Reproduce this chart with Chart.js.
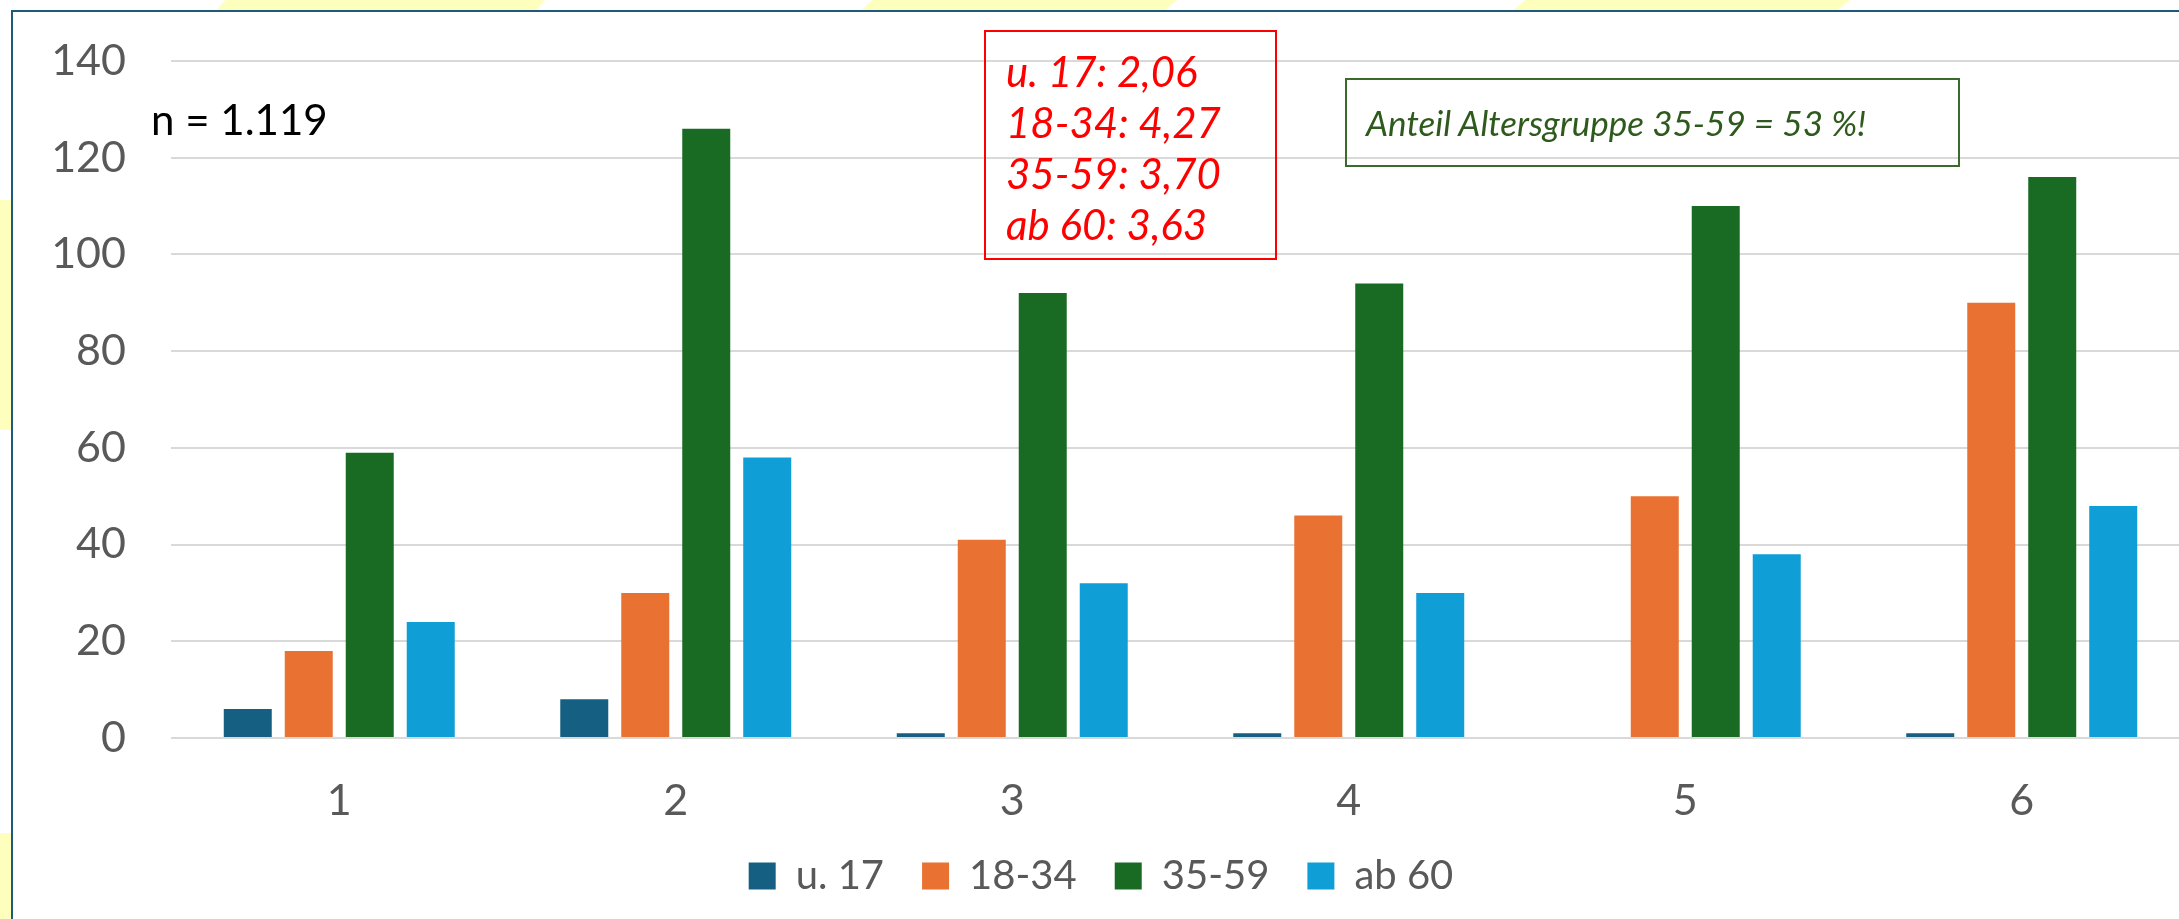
<!DOCTYPE html>
<html lang="de">
<head>
<meta charset="utf-8">
<title>Altersgruppen</title>
<script src="https://cdn.jsdelivr.net/npm/chart.js@4.4.1/dist/chart.umd.min.js"></script>
<style>
  html, body { margin: 0; padding: 0; background: #ffffff; overflow: hidden; width: 2179px; height: 919px; }
  body { position: relative; font-family: Lato, "Open Sans", sans-serif; }
  .gelb { position: absolute; background: #ffffbd; }
  #rahmen { position: absolute; left: 11px; top: 10px; width: 2300px; height: 1000px;
            border-left: 2px solid #1d5a7c; border-top: 2px solid #1d5a7c; background: #fff; }
  #wrap { position: absolute; left: 12px; top: 11px; width: 2202px; height: 908px; }
  #n { position: absolute; left: 151px; top: 94px; font-size: 42px; color: #000; line-height: 50px; }
  #rot { position: absolute; left: 984px; top: 30px; width: 293px; height: 230px;
         border: 2px solid #ff0000; color: #ff0000; font-style: italic; font-size: 42px;
         line-height: 51px; padding: 14px 0 0 20px; box-sizing: border-box; }
  #gruen { position: absolute; left: 1345px; top: 78px; width: 615px; height: 89px;
           border: 2px solid #3b6b2a; color: #2f5a1e; font-style: italic; font-size: 35px;
           line-height: 85px; padding-left: 19px; box-sizing: border-box; white-space: nowrap; }
</style>
</head>
<body>
<!-- gelbe Deko-Streifen ausserhalb des Rahmens -->
<div class="gelb" style="left:205px; top:0; width:340px; height:11px; clip-path: polygon(3% 100%, 6% 0, 100% 0, 97% 100%);"></div>
<div class="gelb" style="left:860px; top:0; width:317px; height:11px; clip-path: polygon(0 100%, 4% 0, 100% 0, 96% 100%);"></div>
<div class="gelb" style="left:1512px; top:0; width:338px; height:11px; clip-path: polygon(0 100%, 4% 0, 100% 0, 96% 100%);"></div>
<div class="gelb" style="left:0; top:200px; width:11px; height:230px;"></div>
<div class="gelb" style="left:0; top:833px; width:11px; height:86px;"></div>

<div id="rahmen"></div>
<div id="wrap"><canvas id="grafikAlter"></canvas></div>

<div id="n">n = 1.119</div>
<div id="rot">u. 17: 2,06<br>18-34: 4,27<br>35-59: 3,70<br>ab 60: 3,63</div>
<div id="gruen">Anteil Altersgruppe 35-59 = 53 %!</div>

<script>
// Kategorien (Bewertung 1-6) und Altersgruppen
const kategorien = ['1', '2', '3', '4', '5', '6'];
const gruppen = ['u. 17', '18-34', '35-59', 'ab 60'];

// Werte je Altersgruppe
const werteU17 = [6, 8, 1, 1, 0, 1];
const werte1834 = [18, 30, 41, 46, 50, 90];
const werte3559 = [59, 126, 92, 94, 110, 116];
const werteAb60 = [24, 58, 32, 30, 38, 48];

// Achse
const yMin = 0;
const yMax = 140;
const ySchritt = 20;

const farben = ['#156082', '#E97132', '#196B24', '#0F9ED5'];
const grau = '#595959';

function initChart() {
    const ctx = document.getElementById('grafikAlter');
    const reihen = [werteU17, werte1834, werte3559, werteAb60];

    new Chart(ctx, {
        type: 'bar',
        data: {
            labels: kategorien,
            datasets: reihen.map((werte, i) => ({
                label: gruppen[i],
                data: werte,
                backgroundColor: farben[i],
                borderWidth: 0,
                categoryPercentage: 0.725,
                barPercentage: 0.787
            }))
        },
        options: {
            responsive: true,
            maintainAspectRatio: false,
            animation: false,
            layout: {
                padding: { top: 50, right: 24, bottom: 13, left: 0 }
            },
            plugins: {
                tooltip: { enabled: false },
                legend: {
                    position: 'bottom',
                    labels: {
                        boxWidth: 27,
                        boxHeight: 27,
                        padding: 38,
                        color: grau,
                        font: { family: 'Lato', size: 40 }
                    }
                }
            },
            scales: {
                x: {
                    grid: { display: false, drawTicks: false },
                    border: { display: false },
                    ticks: {
                        color: grau,
                        padding: 46,
                        font: { family: 'Lato', size: 43, lineHeight: '34px' }
                    },
                    afterFit: (scale) => { scale.height = 80; }
                },
                y: {
                    min: yMin,
                    max: yMax,
                    grid: { color: '#d9d9d9', lineWidth: 2, tickLength: 42, tickColor: 'rgba(0,0,0,0)' },
                    border: { display: false },
                    ticks: {
                        stepSize: ySchritt,
                        color: grau,
                        padding: 3,
                        font: { family: 'Lato', size: 43 }
                    },
                    afterFit: (scale) => { scale.width = 159; }
                }
            }
        }
    });
}

initChart();
</script>
</body>
</html>
